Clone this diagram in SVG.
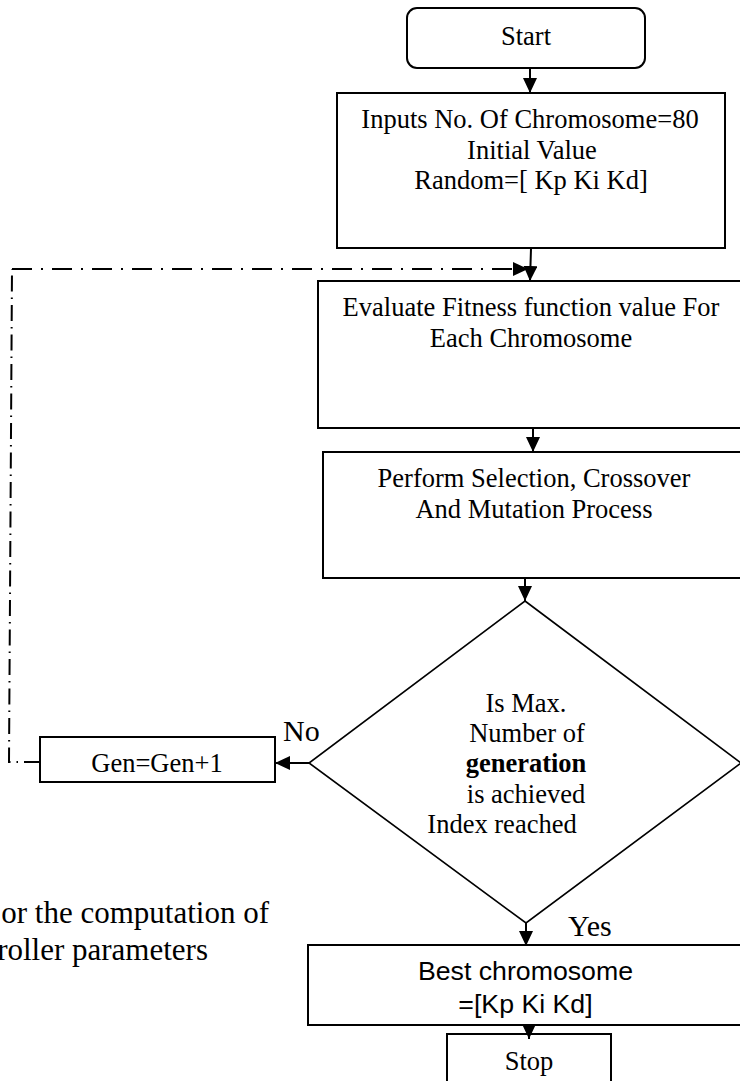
<svg xmlns="http://www.w3.org/2000/svg" width="740" height="1081" viewBox="0 0 740 1081">
<defs>
<marker id="ah" markerUnits="userSpaceOnUse" markerWidth="15" markerHeight="14" refX="15" refY="7" orient="auto">
<path d="M0,0 L15,7 L0,14 z" fill="#000"/>
</marker>
</defs>
<style>
.box{fill:#fff;stroke:#000;stroke-width:2}
.dia{fill:#fff;stroke:#000;stroke-width:1.6}
.t{font-family:"Liberation Serif","Times New Roman",serif;font-size:26.5px;fill:#000;text-anchor:middle}
.s{font-family:"Liberation Sans",Arial,sans-serif;font-size:26.7px;fill:#000;text-anchor:middle}
.lbl{font-family:"Liberation Serif","Times New Roman",serif;font-size:30px;fill:#000}
.cap{font-family:"Liberation Serif","Times New Roman",serif;font-size:31px;fill:#000;text-anchor:end}
.c{fill:none;stroke:#000;stroke-width:2;marker-end:url(#ah)}
.dd{fill:none;stroke:#000;stroke-width:2}
</style>
<rect width="740" height="1081" fill="#fff"/>

<g id="start">
<rect class="box" x="407" y="8" width="238" height="60" rx="10"/>
<text class="t" x="526" y="45">Start</text>
</g>

<g id="inputs">
<rect class="box" x="337" y="93" width="388" height="155"/>
<text class="t" x="530" y="128">Inputs No. Of Chromosome=80</text>
<text class="t" x="532" y="159">Initial Value</text>
<text class="t" x="531" y="189">Random=[ Kp Ki Kd]</text>
</g>

<g id="evaluate">
<rect class="box" x="318" y="281" width="430" height="147"/>
<text class="t" x="531" y="316">Evaluate Fitness function value For</text>
<text class="t" x="531" y="347">Each Chromosome</text>
</g>

<g id="perform">
<rect class="box" x="323" y="452" width="425" height="126"/>
<text class="t" x="534" y="487">Perform Selection, Crossover</text>
<text class="t" x="534" y="518">And Mutation Process</text>
</g>

<g id="decision">
<polygon class="dia" points="525,601 741,763 526,923 309,763"/>
<text class="t" x="526" y="712">Is Max.</text>
<text class="t" x="527" y="742">Number of</text>
<text class="t" x="526" y="772" font-weight="bold">generation</text>
<text class="t" x="526" y="803">is achieved</text>
<text class="t" x="502" y="833">Index reached</text>
</g>

<g id="gen">
<rect class="box" x="40" y="737" width="235" height="45"/>
<text class="t" x="157" y="772">Gen=Gen+1</text>
</g>

<g id="labels">
<text class="lbl" x="283" y="741">No</text>
<text class="lbl" x="568" y="936">Yes</text>
</g>

<g id="best">
<rect class="box" x="308" y="945" width="440" height="80"/>
<text class="s" x="525.5" y="980">Best chromosome</text>
<text class="s" x="525.5" y="1013">=[Kp Ki Kd]</text>
</g>

<g id="stop">
<rect class="box" x="447" y="1034" width="164" height="60"/>
<text class="t" x="529" y="1070">Stop</text>
</g>

<g id="caption">
<text class="cap" x="269" y="923">or the computation of</text>
<text class="cap" x="208" y="960">roller parameters</text>
</g>

<g id="connectors">
<line class="c" x1="530" y1="69" x2="530" y2="93"/>
<line class="c" x1="531" y1="249" x2="530" y2="281"/>
<path class="dd" d="M12,269 L528,269" stroke-dasharray="20 9 2 9" marker-end="url(#ah)"/>
<path class="dd" d="M40,762 L9,762 L12,269" stroke-width="1.6" stroke-dasharray="16 6 1.5 6"/>
<line class="c" x1="533" y1="429" x2="533" y2="452"/>
<line class="c" x1="525" y1="579" x2="525" y2="601"/>
<line class="c" x1="309" y1="763" x2="275" y2="763"/>
<line class="c" x1="526" y1="923" x2="526" y2="946"/>
<line class="c" x1="529" y1="1024" x2="529" y2="1039"/>
</g>
</svg>
